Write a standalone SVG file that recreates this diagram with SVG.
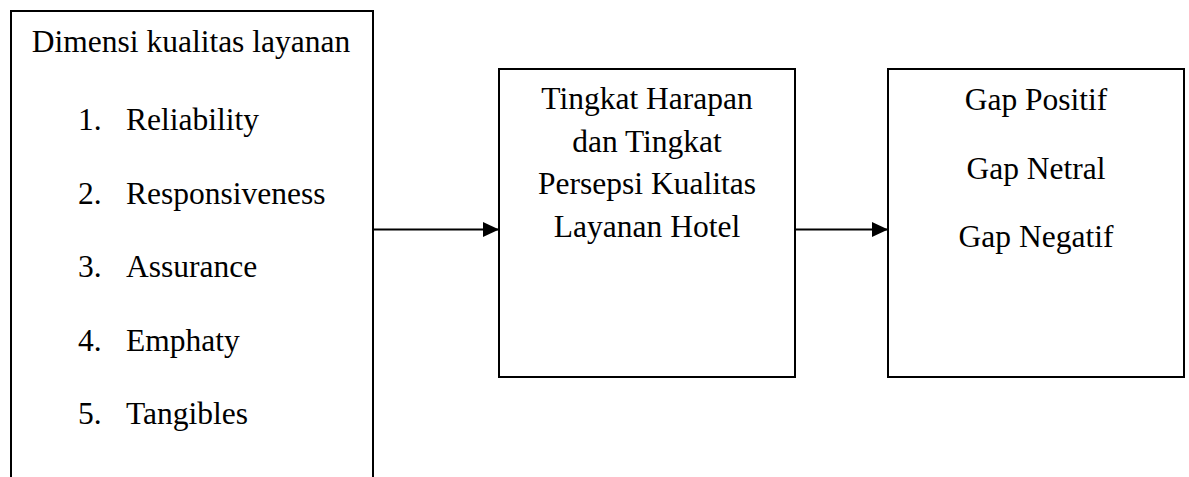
<svg xmlns="http://www.w3.org/2000/svg" width="1189" height="477" viewBox="0 0 1189 477">
<style>
.box{fill:#fff;stroke:#000;stroke-width:2}
.t{font-family:"Liberation Serif","Times New Roman",serif;font-size:31.5px;fill:#000}
.c{text-anchor:middle}
.conn{stroke:#000;stroke-width:2;fill:none}
</style>
<defs>
<marker id="ah" markerWidth="16" markerHeight="15" refX="16" refY="7.5" orient="auto" markerUnits="userSpaceOnUse">
<path d="M0,0 L16,7.5 L0,15 Z" fill="#000"/>
</marker>
</defs>
<rect width="1189" height="477" fill="#fff"/>
<g id="dimensi">
<rect class="box" x="11" y="11" width="362" height="480"/>
<text class="t c" x="191" y="52">Dimensi kualitas layanan</text>
<text class="t" x="78" y="130">1.</text><text class="t" x="126" y="130">Reliability</text>
<text class="t" x="78" y="203.5">2.</text><text class="t" x="126" y="203.5">Responsiveness</text>
<text class="t" x="78" y="277">3.</text><text class="t" x="126" y="277">Assurance</text>
<text class="t" x="78" y="350.5">4.</text><text class="t" x="126" y="350.5">Emphaty</text>
<text class="t" x="78" y="424">5.</text><text class="t" x="126" y="424">Tangibles</text>
</g>
<g id="tingkat">
<rect class="box" x="499" y="69" width="296" height="308"/>
<text class="t c" x="647" y="109">Tingkat Harapan</text>
<text class="t c" x="647" y="151.5">dan Tingkat</text>
<text class="t c" x="647" y="194">Persepsi Kualitas</text>
<text class="t c" x="647" y="236.5">Layanan Hotel</text>
</g>
<g id="gap">
<rect class="box" x="888" y="69" width="296" height="308"/>
<text class="t c" x="1036" y="110">Gap Positif</text>
<text class="t c" x="1036" y="178.5">Gap Netral</text>
<text class="t c" x="1036" y="247">Gap Negatif</text>
</g>
<g id="connectors">
<line class="conn" x1="373" y1="229.5" x2="499" y2="229.5" marker-end="url(#ah)"/>
<line class="conn" x1="795" y1="229.5" x2="888" y2="229.5" marker-end="url(#ah)"/>
</g>
</svg>
